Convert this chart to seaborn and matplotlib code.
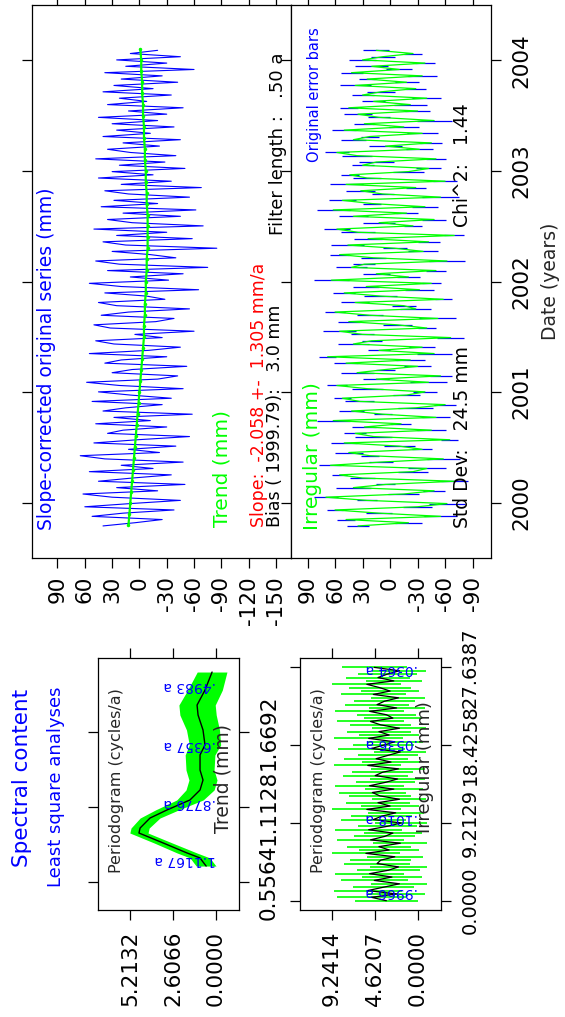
import matplotlib
matplotlib.use('Agg')
import matplotlib.pyplot as plt
import numpy as np
import seaborn as sns

W, H = 565, 1017

# ---- time series (weekly-ish sampling from 1999.79) ----
t_start, t_step = 1999.79, 0.02886
irregular = [35, -20, 48, -55, 12, 60, -30, -62, 25, 70,
             -15, -48, 40, 5, -70, 30, 55, -25, -40, 65,
             10, -58, 22, 45, -35, -10, 50, -65, 18, 38,
             -45, 28, -12, 62, -50, 8, 42, -28, -60, 33,
             52, -18, -38, 25, 58, -42, 15, -55, 36, 5,
             -30, 48, -22, 68, -48, 12, -35, 40, 20, -66,
             30, 55, -40, -8, 45, -52, 22, 60, -28, -15,
             38, -58, 10, 50, -32, 26, -45, 64, -20, 15,
             -50, 42, 28, -62, 18, 55, -36, -5, 46, -42,
             24, -70, 35, 58, -25, 12, -48, 40, -18, 62,
             -38, 20, 52, -55, 8, 32, -28, 48, -60, 25,
             44, -20, -42, 30, 15, -50, 36, 58, -32, 5,
             -45, 40, 22, -35, 50, -15, 28, -48, 12, 35,
             -30, 45, -22, 18, -40, 30, 10, -28, 38, -18,
             25, -35, 42, -10, 20, -38, 30, 8, -25, 15]
errbar = [12, 15, 10, 18, 14, 9, 16, 20, 11, 13,
          17, 12, 19, 10, 15, 14, 8, 16, 21, 12,
          13, 18, 10, 15, 11, 17, 14, 9, 20, 12,
          16, 13, 11, 18, 15, 10, 14, 19, 12, 16,
          9, 15, 13, 17, 11, 20, 14, 12, 18, 10,
          15, 13, 16, 9, 19, 12, 14, 17, 11, 15,
          13, 18, 10, 16, 12, 20, 14, 11, 17, 13,
          15, 9, 18, 12, 16, 14, 10, 19, 13, 15,
          11, 17, 12, 20, 14, 10, 16, 13, 18, 12,
          15, 11, 19, 14, 10, 17, 13, 16, 12, 18,
          14, 10, 15, 20, 12, 16, 11, 18, 13, 15,
          10, 17, 14, 12, 19, 11, 16, 13, 15, 18,
          12, 14, 10, 17, 13, 16, 11, 19, 12, 15,
          14, 10, 18, 13, 16, 12, 15, 11, 17, 13,
          9, 16, 12, 14, 18, 11, 15, 13, 10, 14]
original = [40, 5, -25, 52, 18, -38, 60, 10, -45, 30,
            62, -20, 25, -50, 45, 8, -35, 55, -15, 20,
            -48, 38, 65, -22, 12, -40, 50, 2, -55, 35,
            18, -30, 48, -12, 28, -58, 40, 15, -25, 52,
            -35, 10, 45, -48, 22, 58, -20, -42, 30, 8,
            -52, 38, 20, -30, 55, -10, -45, 28, 48, -25,
            5, -60, 32, 50, -18, -38, 42, 12, -55, 25,
            45, -28, -8, 38, -65, 20, 55, -32, 10, -48,
            35, -75, 22, 48, -40, -12, 30, -85, 15, 40,
            -58, 25, -30, 50, -70, 8, 35, -45, 18, -62,
            42, -20, 28, -55, 12, 38, -68, 20, -35, 45,
            -15, 30, -50, 22, -28, 48, -40, 10, 35, -22,
            18, -45, 40, -12, 25, -38, 30, -20, 45, -30,
            12, -48, 35, -8, 22, -35, 40, -15, 28, -42,
            20, -25, 38, -60, 15, -30, 25, -45, 10, -20]
trend_start, trend_step = 1999.8, 0.1
trend = [12, 11, 10, 9, 8, 7, 6, 5, 4, 3,
         2, 1, 0, -1, -2, -3, -4, -5, -5, -6,
         -6, -7, -7, -8, -8, -9, -9, -9, -9, -8,
         -8, -7, -7, -6, -6, -5, -5, -4, -4, -3,
         -3, -2, -2, -1]

upper_ticks = [90, 60, 30, 0, -30, -60, -90, -120, -150]
lower_ticks = [90, 60, 30, 0, -30, -60, -90]
years = [2000, 2001, 2002, 2003, 2004]

# ---- trend periodogram ----
tp_freq = [0.675, 0.705, 0.735, 0.772, 0.846, 0.920, 0.957, 1.031, 1.091, 1.165,
           1.239, 1.313, 1.387, 1.499, 1.573, 1.684, 1.795, 1.869, 1.980, 2.114]
tp_pow = [0.6, 0.79, 0.97, 1.76, 3.2, 4.67, 4.6, 4.0, 2.97, 1.58,
          0.97, 0.79, 0.97, 0.97, 0.67, 0.79, 1.09, 1.15, 0.67, 0.24]
tp_err = [0.6, 0.6, 0.6, 0.6, 0.55, 0.55, 0.55, 0.6, 0.7, 0.8,
          0.85, 0.85, 0.85, 0.9, 0.95, 1.0, 1.1, 1.1, 1.05, 0.9]
tp_val_ticks = [5.2132, 2.6066, 0.0]
tp_val_labels = ['5.2132', '2.6066', '0.0000']
tp_f_ticks = [0.5564, 1.1128, 1.6692]
tp_f_labels = ['0.5564', '1.1128', '1.6692']
tp_peak_f = [2.007, 1.573, 1.139, 0.72]
tp_peak_lab = ['.4983 a', '.6357 a', '.8776 a', '1.1167 a']

# ---- irregular periodogram ----
ip_fmax = 27.6387
ip_pow = [3.4, 5.0, 2.3, 5.4, 3.7, 2.0, 4.7, 2.8, 5.2, 3.2,
          2.1, 4.4, 4.0, 2.5, 5.6, 3.1, 4.2, 1.9, 5.1, 3.6,
          2.7, 5.3, 3.3, 1.8, 4.8, 3.9, 2.4, 5.5, 3.0, 4.3,
          2.0, 4.1, 4.9, 2.6, 5.2, 3.5, 2.2, 4.6, 3.8, 2.1,
          5.4, 2.9, 4.5, 3.2, 1.9, 5.0, 3.7, 2.5, 5.3, 3.1,
          4.2, 2.0, 4.0, 5.1, 2.7, 3.4, 5.2, 2.3, 4.4, 3.6,
          2.1, 4.8, 3.0, 4.1, 5.5, 2.6, 4.3, 3.3, 2.0, 4.7]
ip_err = [3.4, 3.7, 3.1, 3.64, 3.3, 3.0, 3.6, 3.2, 3.7, 3.4,
          3.1, 3.5, 3.3, 3.0, 3.64, 3.2, 3.4, 2.9, 3.6, 3.3,
          3.1, 3.6, 3.2, 2.8, 3.5, 3.3, 3.0, 3.7, 3.1, 3.4,
          2.9, 3.3, 3.6, 3.1, 3.7, 3.2, 3.0, 3.5, 3.3, 2.9,
          3.6, 3.1, 3.4, 3.2, 2.8, 3.6, 3.3, 3.0, 3.7, 3.2,
          3.4, 2.9, 3.3, 3.6, 3.1, 3.2, 3.7, 3.0, 3.4, 3.3,
          2.9, 3.5, 3.1, 3.3, 3.7, 3.0, 3.4, 3.2, 2.9, 3.5]
ip_val_ticks = [9.2414, 4.6207, 0.0]
ip_val_labels = ['9.2414', '4.6207', '0.0000']
ip_f_ticks = [0.0, 9.2129, 18.4258, 27.6387]
ip_f_labels = ['0.0000', '9.2129', '18.4258', '27.6387']
ip_peak_f = [27.47, 18.66, 9.82, 1.003]
ip_peak_lab = ['.0364 a', '.0536 a', '.1018 a', '.9966 a']

sns.set_theme(style='ticks')
plt.rcParams['font.family'] = ['DejaVu Sans']
plt.rcParams['axes.linewidth'] = 0.9
plt.rcParams['axes.edgecolor'] = 'black'
plt.rcParams['xtick.color'] = 'black'
plt.rcParams['ytick.color'] = 'black'

fig = plt.figure(figsize=(W / 100, H / 100), dpi=100)
fig.patch.set_facecolor('white')


def rect(x0, y0, x1, y1):
    return [x0 / W, 1 - y1 / H, (x1 - x0) / W, (y1 - y0) / H]


def ftext(x, y, s, rot=90, ha='left', **kw):
    fig.text(x / W, 1 - y / H, s, rotation=rot, rotation_mode='anchor',
             ha=ha, va='center', **kw)


def frame(ax):
    ax.set_facecolor('white')
    for sp in ax.spines.values():
        sp.set_visible(True)
        sp.set_linewidth(0.9)
        sp.set_color('black')
    ax.tick_params(direction='out', length=7, width=0.9, labelsize=15.5,
                   colors='black')


dates = t_start + t_step * np.arange(len(irregular))
tdates = trend_start + trend_step * np.arange(len(trend))
irr = np.array(irregular)
eb = np.array(errbar)

# ---------- upper panel: slope corrected series + trend ----------
ax1 = fig.add_axes(rect(32, 5, 291, 558))
frame(ax1)
sns.lineplot(x=original, y=dates, orient='y', sort=False, estimator=None,
             color='blue', lw=0.8, ax=ax1)
sns.lineplot(x=trend, y=tdates, orient='y', sort=False, estimator=None,
             color='lime', lw=1.6, marker='o', markersize=2.5,
             markeredgewidth=0, ax=ax1)
ax1.set_xlim(118, -166.5)
ax1.set_ylim(1999.5, 2004.5)
ax1.set_xticks(upper_ticks)
ax1.set_xticklabels([str(v) for v in upper_ticks])
ax1.set_yticks(years)
ax1.tick_params(axis='x', bottom=True, top=True, labelbottom=True,
                labelrotation=90, pad=6)
ax1.tick_params(axis='y', left=True, right=True, labelleft=False)
ax1.set_xlabel('')
ax1.set_ylabel('')

# ---------- lower panel: irregular ----------
ax2 = fig.add_axes(rect(291, 5, 491, 558))
frame(ax2)
ax2.hlines(dates, irr - eb, irr + eb, color='blue', lw=0.9)
sns.lineplot(x=irregular, y=dates, orient='y', sort=False, estimator=None,
             color='lime', lw=0.9, ax=ax2)
ax2.set_xlim(108, -110)
ax2.set_ylim(1999.5, 2004.5)
ax2.set_xticks(lower_ticks)
ax2.set_xticklabels([str(v) for v in lower_ticks])
ax2.set_yticks(years)
ax2.set_yticklabels([str(y) for y in years])
ax2.tick_params(axis='x', bottom=True, top=True, labelbottom=True,
                labelrotation=90, pad=6)
ax2.tick_params(axis='y', left=True, right=True, labelleft=False,
                labelright=True, labelrotation=90, pad=8)
for lab in ax2.get_yticklabels():
    lab.set_va('center')
ax2.set_xlabel('')
ax2.set_ylabel('')

ftext(551, 281, 'Date (years)', ha='center', fontsize=13.5)

ftext(47, 530, 'Slope-corrected original series (mm)', color='blue', fontsize=13.5)
ftext(222, 527, 'Trend (mm)', color='lime', fontsize=14.5)
ftext(259, 527, 'Slope:  -2.058 +-  1.305 mm/a', color='red', fontsize=12.5)
ftext(275, 527, 'Bias ( 1999.79):   3.0 mm', color='black', fontsize=12.5)
ftext(278, 235, 'Filter length :   .50 a', color='black', fontsize=13)

ftext(315, 162, 'Original error bars', color='blue', fontsize=10.5)
ftext(312, 530, 'Irregular (mm)', color='lime', fontsize=14.5)
ftext(463, 227, 'Chi^2:   1.44', color='black', fontsize=13.5)
ftext(463, 528, 'Std Dev:   24.5 mm', color='black', fontsize=13.5)

# ---------- spectral titles ----------
ftext(22, 778, 'Spectral content', ha='center', color='blue', fontsize=15.5)
ftext(56, 787, 'Least square analyses', ha='center', color='blue', fontsize=13)


def pgram_axes(ax, xlim, ylim, vticks, vlabels, fticks, flabels, fsize=15.5):
    frame(ax)
    ax.set_xlim(*xlim)
    ax.set_ylim(*ylim)
    ax.set_xticks(vticks)
    ax.set_xticklabels(vlabels)
    ax.set_yticks(fticks)
    ax.set_yticklabels(flabels)
    ax.tick_params(axis='x', bottom=True, top=True, labelbottom=True,
                   labelrotation=90, pad=8)
    ax.tick_params(axis='y', left=True, right=True, labelleft=False,
                   labelright=True, labelrotation=90, pad=7, labelsize=fsize)
    for lab in ax.get_yticklabels():
        lab.set_va('center')
    ax.set_xlabel('')
    ax.set_ylabel('')


# ---------- trend periodogram ----------
ax3 = fig.add_axes(rect(98, 658, 239, 910))
tpf = np.array(tp_freq)
tpp = np.array(tp_pow)
tpe = np.array(tp_err)
ax3.fill_betweenx(tpf, tpp - tpe, tpp + tpe, color='lime', lw=0)
sns.lineplot(x=tp_pow, y=tp_freq, orient='y', sort=False, estimator=None,
             color='black', lw=1.0, ax=ax3)
pgram_axes(ax3, (7.15, -1.39), (0.349, 2.218), tp_val_ticks, tp_val_labels,
           tp_f_ticks, tp_f_labels)
for f, s in zip(tp_peak_f, tp_peak_lab):
    ax3.text(0, f, s, rotation=180, rotation_mode='anchor', ha='left',
             va='center', color='blue', fontsize=10)
ftext(116, 873, 'Periodogram (cycles/a)', fontsize=11.5)
ftext(223, 833, 'Trend (mm)', fontsize=13.5)

# ---------- irregular periodogram ----------
ax4 = fig.add_axes(rect(300, 658, 441, 910))
ipf = np.linspace(0, ip_fmax, len(ip_pow))
ipp = np.array(ip_pow)
ipe = np.array(ip_err)
ax4.hlines(ipf, ipp - ipe, ipp + ipe, color='lime', lw=1.2)
sns.lineplot(x=ip_pow, y=ipf, orient='y', sort=False, estimator=None,
             color='black', lw=0.9, ax=ax4)
pgram_axes(ax4, (12.68, -2.47), (-1.1, 28.75), ip_val_ticks, ip_val_labels,
           ip_f_ticks, ip_f_labels, fsize=14)
for f, s in zip(ip_peak_f, ip_peak_lab):
    ax4.text(0, f, s, rotation=180, rotation_mode='anchor', ha='left',
             va='center', color='blue', fontsize=10)
ftext(318, 873, 'Periodogram (cycles/a)', fontsize=11.5)
ftext(425, 833, 'Irregular (mm)', fontsize=13)

fig.savefig('out.png', dpi=100, facecolor='white')
